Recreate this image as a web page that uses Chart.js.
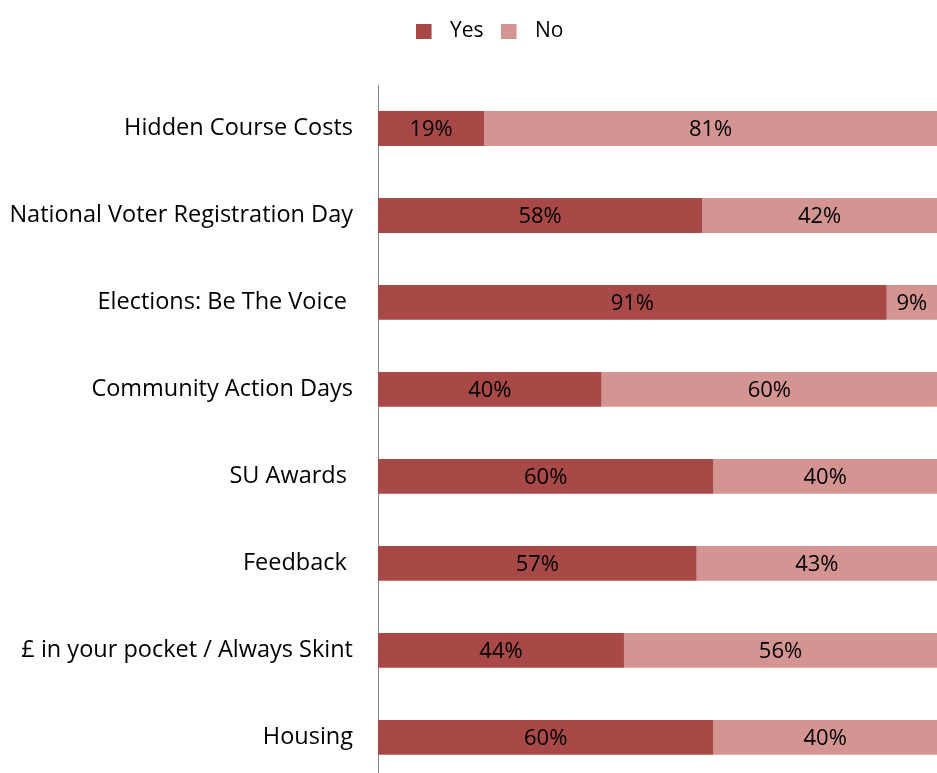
<!DOCTYPE html>
<html>
<head>
<meta charset="utf-8">
<script src="https://cdn.jsdelivr.net/npm/chart.js@4"></script>
<style>
  html, body { margin: 0; padding: 0; background: #fff; overflow: hidden; }
  canvas { display: block; }
</style>
</head>
<body>
<canvas id="surveyChart" width="937" height="820"></canvas>
<script>
// Campaign awareness survey results
const campaigns = [
  'Hidden Course Costs',
  'National Voter Registration Day',
  'Elections: Be The Voice ',
  'Community Action Days',
  'SU Awards ',
  'Feedback ',
  '£ in your pocket / Always Skint',
  'Housing'
];
const yesValues = [19, 58, 91, 40, 60, 57, 44, 60];
const noValues = [81, 42, 9, 60, 40, 43, 56, 40];

const FONT = '"Open Sans", "Noto Sans", sans-serif';
const YES_COLOR = '#A84947';
const NO_COLOR = '#D39492';

// Legend swatch: square on the left, blank space before the text
function makeSwatch(color) {
  const c = document.createElement('canvas');
  c.width = 24;
  c.height = 15;
  const g = c.getContext('2d');
  g.fillStyle = color;
  g.fillRect(0, 0, 16, 15);
  return c;
}
const swatches = [makeSwatch(YES_COLOR), makeSwatch(NO_COLOR)];

// Writes the percentage in the middle of every bar segment
const segmentLabels = {
  id: 'segmentLabels',
  afterDatasetsDraw(chart) {
    const ctx = chart.ctx;
    ctx.save();
    ctx.font = '22px ' + FONT;
    ctx.fillStyle = '#000';
    ctx.textAlign = 'center';
    ctx.textBaseline = 'middle';
    chart.data.datasets.forEach((ds, i) => {
      chart.getDatasetMeta(i).data.forEach((bar, j) => {
        const mid = (bar.x + bar.base) / 2;
        ctx.fillText(ds.data[j] + '%', mid, bar.y + 1);
      });
    });
    ctx.restore();
  }
};

// Extra room under the legend, and legend nudged a bit to the right
const legendTweaks = {
  id: 'legendTweaks',
  beforeLayout(chart) {
    const legend = chart.legend;
    if (legend && !legend._gapPatched) {
      const fit = legend.fit;
      legend.fit = function () {
        fit.call(this);
        this.height += 33;
      };
      legend._gapPatched = true;
    }
  },
  afterLayout(chart) {
    if (chart.legend) chart.legend.left += 42;
  }
};

new Chart(document.getElementById('surveyChart'), {
  type: 'bar',
  data: {
    labels: campaigns,
    datasets: [
      { label: 'Yes', data: yesValues, backgroundColor: YES_COLOR },
      { label: 'No', data: noValues, backgroundColor: NO_COLOR }
    ]
  },
  options: {
    responsive: false,
    indexAxis: 'y',
    animation: false,
    events: [],
    layout: { padding: { top: 4, right: 0, bottom: 0, left: 0 } },
    datasets: { bar: { categoryPercentage: 1, barPercentage: 0.4 } },
    scales: {
      x: { stacked: true, min: 0, max: 100, display: false },
      y: {
        stacked: true,
        grid: { display: false, drawTicks: false },
        border: { display: true, color: '#868686', width: 1 },
        ticks: { color: '#000', padding: 25, font: { family: FONT, size: 23.5 } },
        afterFit(scale) { scale.width = 378; }
      }
    },
    plugins: {
      legend: {
        position: 'top',
        labels: {
          color: '#000',
          usePointStyle: true,
          pointStyleWidth: 24,
          padding: 17,
          font: { family: FONT, size: 21 },
          generateLabels(chart) {
            const items = Chart.defaults.plugins.legend.labels.generateLabels(chart);
            items.forEach((item, i) => { item.pointStyle = swatches[i]; });
            return items;
          }
        }
      },
      tooltip: { enabled: false }
    }
  },
  plugins: [segmentLabels, legendTweaks]
});
</script>
</body>
</html>
